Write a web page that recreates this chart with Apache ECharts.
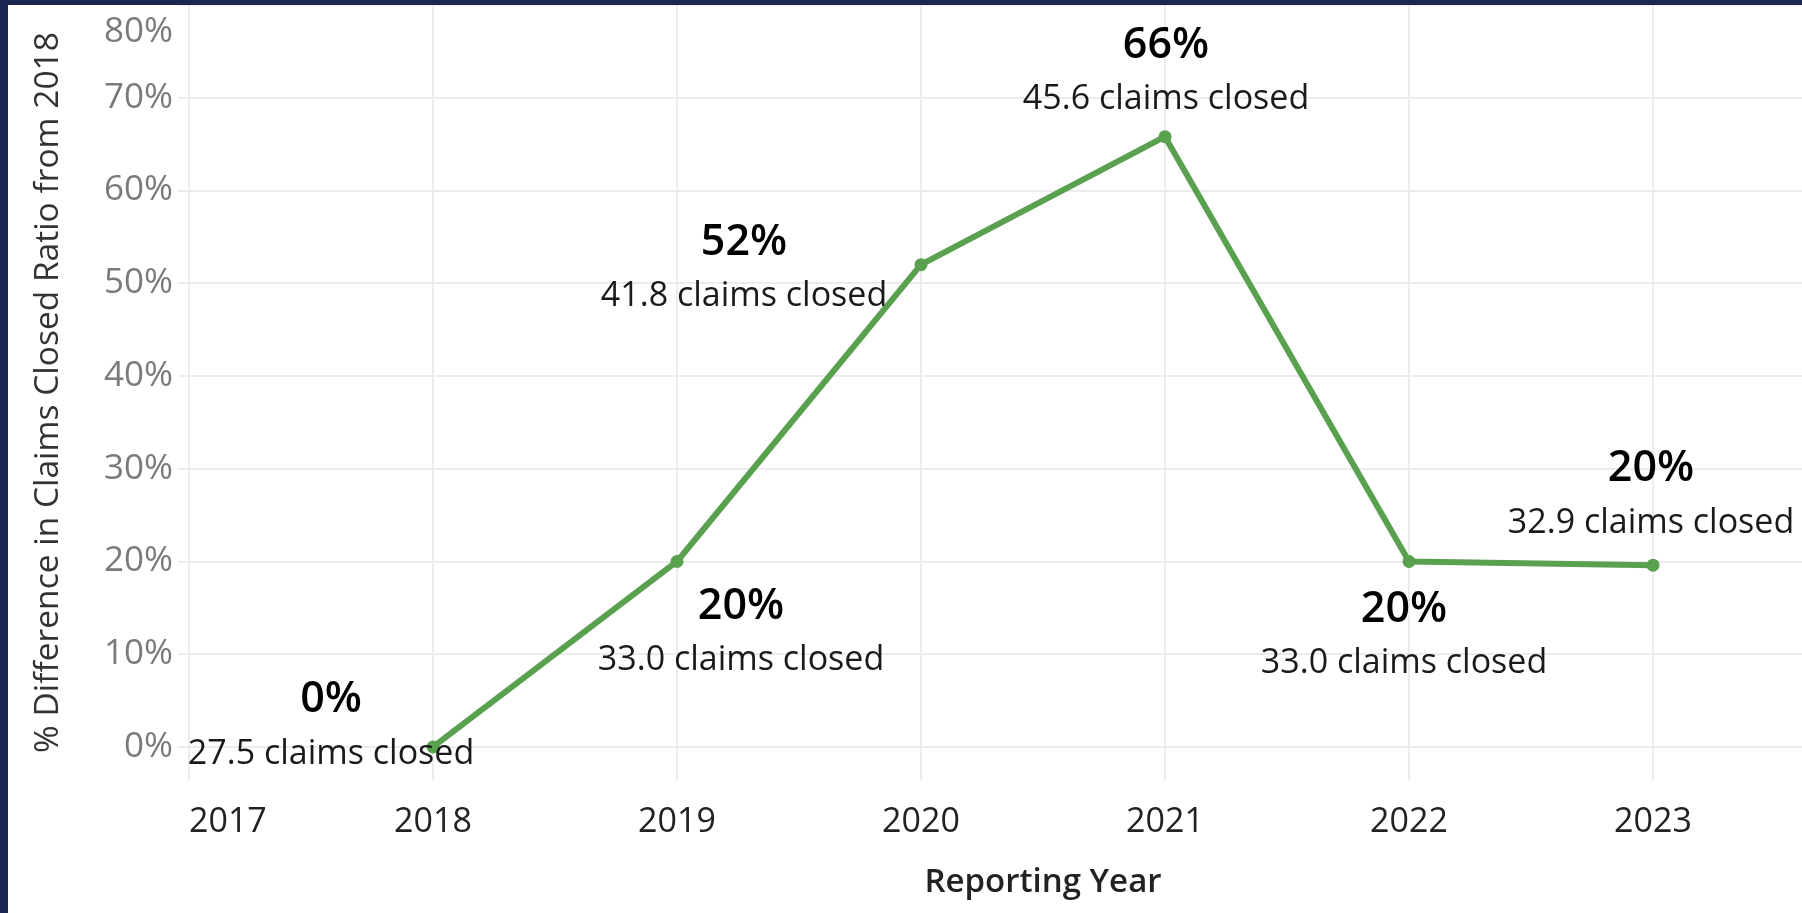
<!DOCTYPE html>
<html>
<head>
<meta charset="utf-8">
<script src="https://cdn.jsdelivr.net/npm/echarts@6/dist/echarts.min.js"></script>
<style>
  html, body { margin: 0; padding: 0; width: 1802px; height: 913px; overflow: hidden; background: #1c2652; }
  #chart { position: absolute; left: 8px; top: 5px; width: 1889px; height: 908px; background: #ffffff; }
</style>
</head>
<body>
<div id="chart"></div>
<script>
// ---- data ----
const years = [2018, 2019, 2020, 2021, 2022, 2023];
const pctDiff = [0, 0.20, 0.52, 0.658, 0.20, 0.196];        // % difference in claims closed ratio from 2018
const claimsClosed = [27.5, 33.0, 41.8, 45.6, 33.0, 32.9];  // claims closed
const xTicks = [2017, 2018, 2019, 2020, 2021, 2022, 2023];
const yTicks = [0, 0.1, 0.2, 0.3, 0.4, 0.5, 0.6, 0.7, 0.8];

// ---- label placement (style only) ----
const labelOffsets = [[-102, -20], [64, 72], [-177, 5], [1, -64], [-5, 75], [-2, -69]];

const FONT = '"Open Sans", "Noto Sans", sans-serif';
const GREEN = '#59a14f';
const GRID = '#ececec';

const seriesData = years.map((y, i) => ({
  value: [y, pctDiff[i]],
  label: { offset: labelOffsets[i] }
}));

const chart = echarts.init(document.getElementById('chart'), null, { renderer: 'canvas' });
chart.setOption({
  animation: false,
  backgroundColor: '#ffffff',
  grid: { left: 181, right: 0, top: 0, bottom: 133, containLabel: false },
  xAxis: {
    type: 'value',
    min: 2017,
    max: 2024,
    name: 'Reporting Year',
    nameLocation: 'middle',
    nameGap: 86,
    nameTextStyle: { fontFamily: FONT, fontSize: 33, fontWeight: 600, color: '#222' },
    axisLine: { show: true, lineStyle: { color: GRID, width: 2 } },
    axisTick: { show: true, length: 10, customValues: xTicks, lineStyle: { color: GRID, width: 2 } },
    axisLabel: {
      customValues: xTicks,
      formatter: v => String(v),
      fontFamily: FONT, fontSize: 34, color: '#222',
      margin: 25,
      alignMinLabel: 'left'
    },
    splitLine: { show: true, lineStyle: { color: GRID, width: 2 } }
  },
  yAxis: {
    type: 'value',
    min: -0.0356,
    max: 0.8,
    name: '% Difference in Claims Closed Ratio from 2018',
    nameLocation: 'middle',
    nameRotate: 90,
    nameGap: 124,
    nameTextStyle: { fontFamily: FONT, fontSize: 33.5, color: '#333' },
    axisLine: { show: true, lineStyle: { color: GRID, width: 2 } },
    axisTick: { show: true, length: 11, customValues: yTicks, lineStyle: { color: GRID, width: 2 } },
    axisLabel: {
      customValues: yTicks,
      formatter: v => Math.round(v * 100) + '%',
      fontFamily: FONT, fontSize: 35, color: '#7a7a7a',
      margin: 16,
      lineHeight: 54,
      verticalAlignMaxLabel: 'top'
    },
    splitLine: { show: true, lineStyle: { color: GRID, width: 2 } }
  },
  series: [{
    type: 'line',
    data: seriesData,
    symbol: 'circle',
    symbolSize: 13,
    lineStyle: { color: GREEN, width: 6 },
    itemStyle: { color: GREEN },
    z: 3,
    label: {
      show: true,
      position: 'inside',
      formatter: p => {
        const i = p.dataIndex;
        return '{p|' + Math.round(pctDiff[i] * 100) + '%}\n{c|' + claimsClosed[i].toFixed(1) + ' claims closed}';
      },
      rich: {
        p: { fontFamily: FONT, fontSize: 43, fontWeight: 600, color: '#000', lineHeight: 54, align: 'center' },
        c: { fontFamily: FONT, fontSize: 34, color: '#1a1a1a', lineHeight: 54, align: 'center' }
      }
    }
  }]
});
</script>
</body>
</html>
